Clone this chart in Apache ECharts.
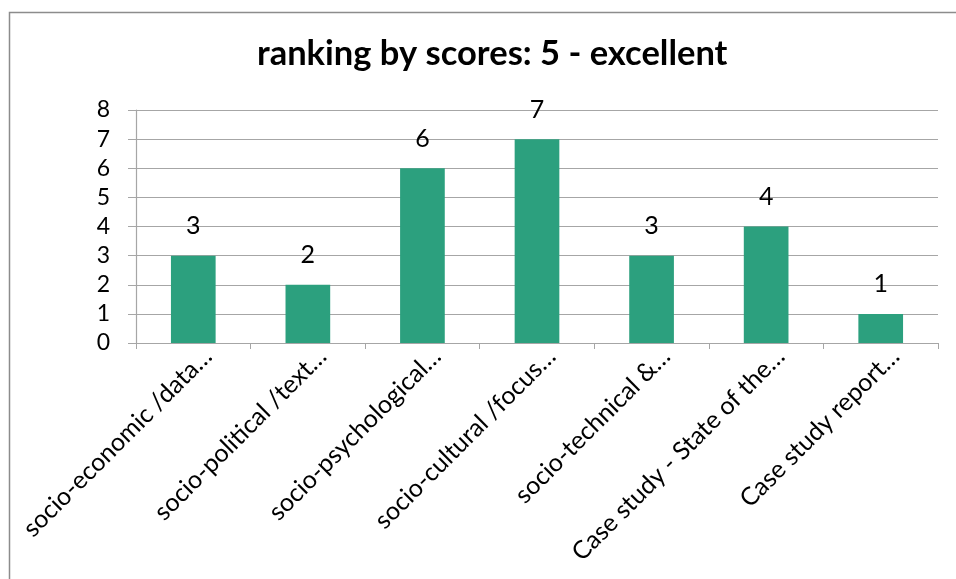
<!DOCTYPE html>
<html>
<head>
<meta charset="utf-8">
<style>
  html, body { margin: 0; padding: 0; background: #ffffff; }
  #chart { width: 956px; height: 579px; }
</style>
<script src="https://cdn.jsdelivr.net/npm/echarts@6/dist/echarts.min.js"></script>
</head>
<body>
<div id="chart"></div>
<script>
// Categories (labels shortened as shown on the axis)
const categories = [
  'socio-economic /data…',
  'socio-political /text…',
  'socio-psychological…',
  'socio-cultural /focus…',
  'socio-technical &…',
  'Case study - State of the…',
  'Case study report…'
];
// Number of "excellent" (score 5) ratings per category
const excellentCounts = [3, 2, 6, 7, 3, 4, 1];
// Value axis ticks
const yTicks = { min: 0, max: 8, interval: 1 };

const FONT = 'Lato, "Open Sans", sans-serif';

const chart = echarts.init(document.getElementById('chart'), null, { renderer: 'canvas' });
chart.setOption({
  backgroundColor: '#ffffff',
  animation: false,
  title: {
    text: 'ranking by scores: 5 - excellent',
    left: 252,
    top: 31,
    textStyle: { fontFamily: FONT, fontWeight: 'bold', fontSize: 34.5, color: '#000000' }
  },
  graphic: [{
    type: 'rect',
    left: 7, top: 10,
    shape: { width: 980, height: 600 },
    style: { fill: 'none', stroke: '#8c8c8c', lineWidth: 1.5 },
    silent: true
  }],
  grid: { left: 136, right: 18, top: 110, bottom: 236 },
  xAxis: {
    type: 'category',
    data: categories,
    axisLine: { lineStyle: { color: '#a6a6a6', width: 1.2 } },
    axisTick: { show: true, length: 6, alignWithLabel: false, lineStyle: { color: '#a6a6a6' } },
    axisLabel: {
      interval: 0, rotate: 45, margin: 6,
      verticalAlign: 'top',
      padding: [0, -8, 0, 0],
      fontFamily: FONT, fontSize: 25, color: '#000000'
    }
  },
  yAxis: {
    type: 'value',
    min: yTicks.min, max: yTicks.max, interval: yTicks.interval,
    axisLine: { show: true, lineStyle: { color: '#a6a6a6', width: 1.2 } },
    axisTick: { show: true, length: 8, lineStyle: { color: '#a6a6a6' } },
    splitLine: { lineStyle: { color: '#a6a6a6', width: 1.2 } },
    axisLabel: { margin: 26, fontFamily: FONT, fontSize: 23, color: '#000000' }
  },
  series: [{
    type: 'bar',
    data: excellentCounts,
    barWidth: '39%',
    itemStyle: { color: '#2ca07e' },
    label: {
      show: true, position: 'top', distance: 17,
      fontFamily: FONT, fontSize: 25, color: '#000000'
    }
  }]
});
</script>
</body>
</html>
